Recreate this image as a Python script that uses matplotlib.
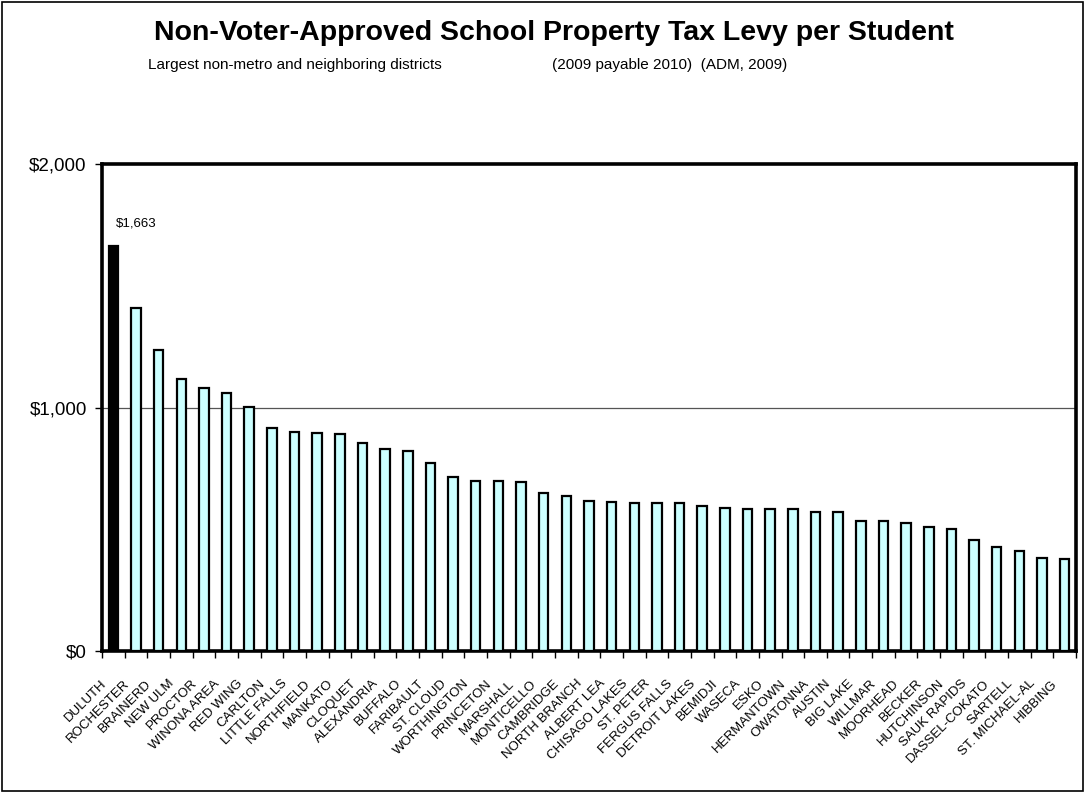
import matplotlib
matplotlib.use("Agg")
import matplotlib.pyplot as plt
from matplotlib import font_manager as fm
from matplotlib.patches import Rectangle
from matplotlib.ticker import FixedLocator, FuncFormatter
from matplotlib.transforms import ScaledTranslation
import numpy as np

districts = [
    "DULUTH", "ROCHESTER", "BRAINERD", "NEW ULM", "PROCTOR", "WINONA AREA",
    "RED WING", "CARLTON", "LITTLE FALLS", "NORTHFIELD", "MANKATO", "CLOQUET",
    "ALEXANDRIA", "BUFFALO", "FARIBAULT", "ST. CLOUD", "WORTHINGTON",
    "PRINCETON", "MARSHALL", "MONTICELLO", "CAMBRIDGE", "NORTH BRANCH",
    "ALBERT LEA", "CHISAGO LAKES", "ST. PETER", "FERGUS FALLS",
    "DETROIT LAKES", "BEMIDJI", "WASECA", "ESKO", "HERMANTOWN", "OWATONNA",
    "AUSTIN", "BIG LAKE", "WILLMAR", "MOORHEAD", "BECKER", "HUTCHINSON",
    "SAUK RAPIDS", "DASSEL-COKATO", "SARTELL", "ST. MICHAEL-AL", "HIBBING",
]
levy_per_student = [
    1663, 1407, 1236, 1116, 1081, 1058,
    1001, 917, 899, 894, 891, 855,
    828, 821, 771, 716, 699,
    698, 693, 648, 638, 617,
    611, 609, 606, 606,
    594, 586, 585, 582, 582, 571,
    570, 534, 534, 527, 508, 502,
    456, 427, 412, 381, 377,
]
highlighted = "DULUTH"
y_ticks = [0, 1000, 2000]


def font_available(name):
    try:
        fm.findfont(fm.FontProperties(family=name), fallback_to_default=False)
        return True
    except ValueError:
        return False


main_font = ["Liberation Sans", "DejaVu Sans"]
if font_available("Liberation Sans Narrow"):
    narrow_font = ["Liberation Sans Narrow", "Liberation Sans", "DejaVu Sans"]
    label_size, sub_size = 11.5, 13
else:
    narrow_font = main_font
    label_size, sub_size = 9.5, 11

fig = plt.figure(figsize=(10.85, 7.93), dpi=100)
ax = fig.add_axes([0.094, 0.179, 0.8977, 0.6142])

x = np.arange(len(districts))
colors = ["black" if d == highlighted else "#CCFFFF" for d in districts]
ax.bar(x, levy_per_student, width=0.42, color=colors, edgecolor="black",
       linewidth=1.6, zorder=3)

ax.set_xlim(-0.5, len(districts) - 0.5)
ax.set_ylim(0, 2000)

# reference line at $1,000
ax.axhline(1000, color="#555555", linewidth=0.9, zorder=1)

# y axis
ax.yaxis.set_major_locator(FixedLocator(y_ticks))
ax.yaxis.set_major_formatter(FuncFormatter(lambda v, p: f"${v:,.0f}"))
ax.tick_params(axis="y", direction="out", length=5, width=1, pad=6,
               labelsize=13.5)
for lab in ax.get_yticklabels():
    lab.set_family(main_font)

# x axis: labels at bar centres, tick marks between categories
ax.set_xticks(x)
ax.set_xticklabels(districts, rotation=45, ha="right", va="top",
                   rotation_mode="anchor", family=narrow_font,
                   fontsize=label_size)
ax.tick_params(axis="x", which="major", length=0, pad=19)
shift = ScaledTranslation(-0.13, 0, fig.dpi_scale_trans)
for lab in ax.get_xticklabels():
    lab.set_transform(lab.get_transform() + shift)
ax.set_xticks(np.arange(-0.5, len(districts)), minor=True)
ax.tick_params(axis="x", which="minor", direction="out", length=5, width=1)

for s in ax.spines.values():
    s.set_linewidth(2.6)
    s.set_color("black")

# value label on the highlighted bar
i_hi = districts.index(highlighted)
ax.annotate(f"${levy_per_student[i_hi]:,}", xy=(x[i_hi], levy_per_student[i_hi]),
            xytext=(2, 16), textcoords="offset points", ha="left",
            va="center", fontsize=9.5, family=main_font)

# titles
fig.text(0.511, 0.958, "Non-Voter-Approved School Property Tax Levy per Student",
         ha="center", va="center", fontsize=20.5, fontweight="bold",
         family=main_font)
fig.text(0.136, 0.918, "Largest non-metro and neighboring districts",
         ha="left", va="center", fontsize=sub_size, family=narrow_font)
fig.text(0.509, 0.918, "(2009 payable 2010)  (ADM, 2009)",
         ha="left", va="center", fontsize=sub_size, family=narrow_font)

# outer frame
fig.patches.append(Rectangle((0.002, 0.002), 0.996, 0.995,
                             transform=fig.transFigure, fill=False,
                             edgecolor="black", linewidth=1.2))

fig.savefig("out.png", dpi=100)
